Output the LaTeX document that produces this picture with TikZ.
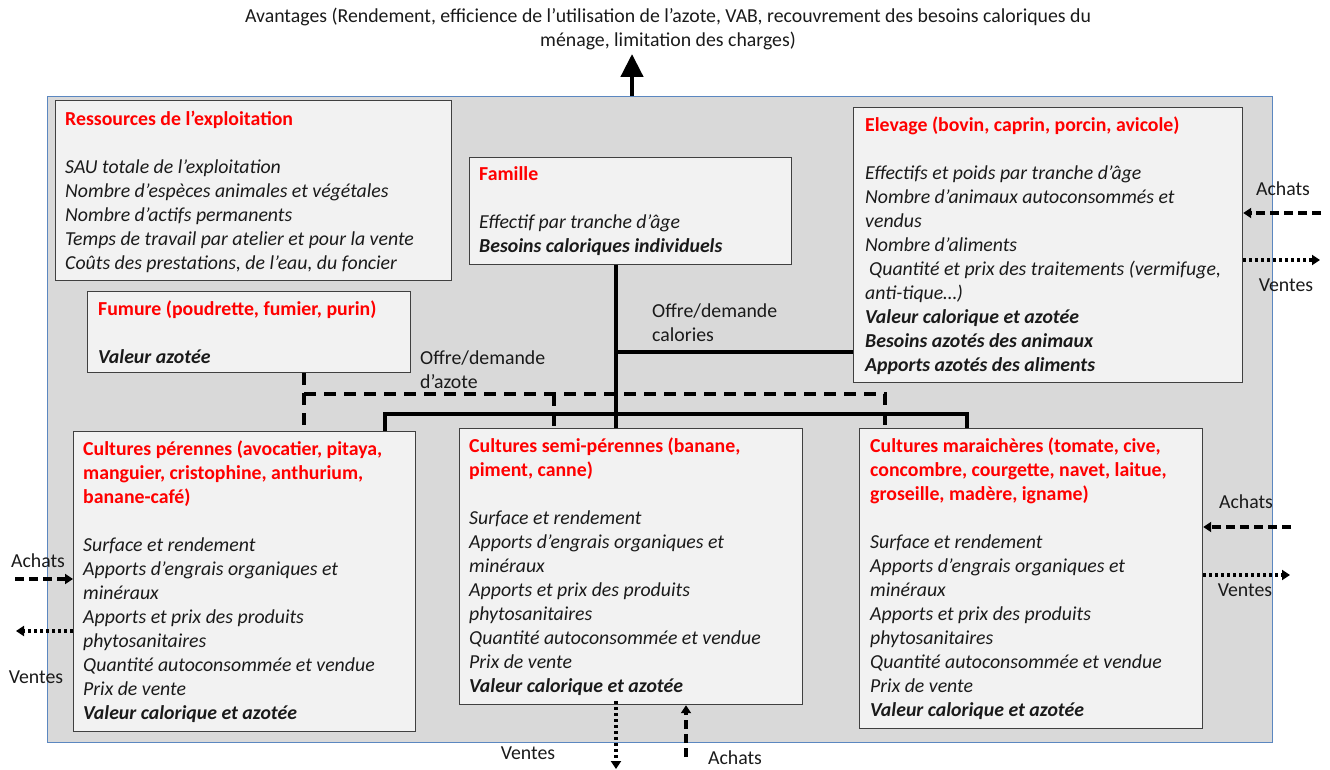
\documentclass[tikz,border=0pt]{standalone}
\usepackage{fontspec}
\setmainfont{Carlito}
\usetikzlibrary{arrows.meta}
\definecolor{boxfill}{HTML}{F2F2F2}
\definecolor{panel}{HTML}{D9D9D9}
\definecolor{panelline}{HTML}{5B87C0}
\definecolor{titlered}{HTML}{FF0000}
\definecolor{boxline}{HTML}{404040}
\definecolor{ink}{HTML}{1A1A1A}
\newcommand\boxtitle[1]{\textcolor{titlered}{\bfseries #1}}
\newcommand\itm[1]{\textit{#1}}
\newcommand\bitm[1]{\textbf{\textit{#1}}}
\begin{document}
\begin{tikzpicture}[x=1pt,y=-1pt,
  panelbox/.style={draw=panelline, fill=panel, line width=1.2pt, inner sep=0, anchor=north west},
  box/.style={draw=boxline, fill=boxfill, line width=1.2pt, inner sep=0, anchor=north west},
  txt/.style={font=\fontsize{19.8}{24}\selectfont, align=left, inner sep=0, anchor=north west, text=ink},
  lbl/.style={font=\fontsize{19.8}{24}\selectfont, inner sep=0, anchor=base, text=ink},
  link/.style={line width=3.2pt},
  azote/.style={line width=3.2pt, dash pattern=on 12pt off 8pt},
  achat/.style={line width=3.2pt, dash pattern=on 9pt off 5pt, -{Triangle[length=8pt,width=10pt]}},
  vente/.style={line width=3.2pt, dash pattern=on 3pt off 3pt, -{Triangle[length=8pt,width=10pt]}}
]
\useasboundingbox (0,0) rectangle (1330,770);

% top text and arrow
\node[font=\fontsize{19.8}{24}\selectfont, align=center, anchor=north, inner sep=0, text=ink] (avant) at (668,5.5)
  {\strut Avantages (Rendement, efficience de l’utilisation de l’azote, VAB, recouvrement des besoins caloriques du\\ ménage, limitation des charges)};

% main panel
\node[panelbox, minimum width=1225, minimum height=646] (panel) at (47,96) {};
\coordinate (upTip) at (632,54);
\draw[line width=4.5pt, -{Triangle[length=23pt,width=22pt]}] (panel.north -| upTip) -- (upTip);

% boxes
\node[box, minimum width=396, minimum height=180] (res) at (55,100) {};
\node[box, minimum width=322, minimum height=107] (fam) at (469,157) {};
\node[box, minimum width=389, minimum height=275] (elev) at (853,107) {};
\node[box, minimum width=323, minimum height=81] (fum) at (87,291) {};
\node[box, minimum width=342, minimum height=300] (per) at (73,431) {};
\node[box, minimum width=343, minimum height=276] (semi) at (459,428) {};
\node[box, minimum width=343, minimum height=300] (mar) at (859,428) {};

% connectors (solid: calories)
\coordinate (calJ) at (616,352);
\coordinate (solL) at (385,414);
\coordinate (solR) at (967,414);
\draw[link] (fam.south -| calJ) -- (semi.north -| calJ);
\draw[link] (calJ) -- (elev.west |- calJ);
\draw[link] (per.north -| solL) -- (solL) -- (solR) -- (mar.north -| solR);

% connectors (dashed: azote)
\coordinate (azL) at (304,394);
\coordinate (azM) at (554,394);
\coordinate (azR) at (885,394);
\draw[azote] (fum.south -| azL) -- (per.north -| azL);
\draw[azote] (azL) -- (azR) -- (mar.north -| azR);
\draw[azote] (azM) -- (semi.north -| azM);

% box texts
\node[txt] (restxt) at (65,108.7) {\strut\boxtitle{Ressources de l’exploitation}\\[24pt]
  \itm{SAU totale de l’exploitation}\\
  \itm{Nombre d’espèces animales et végétales}\\
  \itm{Nombre d’actifs permanents}\\
  \itm{Temps de travail par atelier et pour la vente}\\
  \itm{Coûts des prestations, de l’eau, du foncier}};

\node[txt] (famtxt) at (479,163.7) {\strut\boxtitle{Famille}\\[24pt]
  \itm{Effectif par tranche d'âge}\\
  \bitm{Besoins caloriques individuels}};

\node[txt] (elevtxt) at (865,114.7) {\strut\boxtitle{Elevage (bovin, caprin, porcin, avicole)}\\[24pt]
  \itm{Effectifs et poids par tranche d’âge}\\
  \itm{Nombre d’animaux autoconsommés et}\\
  \itm{vendus}\\
  \itm{Nombre d’aliments}\\
  \hspace*{4pt}\itm{Quantité et prix des traitements (vermifuge,}\\
  \itm{anti-tique…)}\\
  \bitm{Valeur calorique et azotée}\\
  \bitm{Besoins azotés des animaux}\\
  \bitm{Apports azotés des aliments}};

\node[txt] (fumtxt) at (98,298.7) {\strut\boxtitle{Fumure (poudrette, fumier, purin)}\\[24pt]
  \bitm{Valeur azotée}};

\node[txt] (pertxt) at (83,438.7) {\strut\boxtitle{Cultures pérennes (avocatier, pitaya,}\\
  \boxtitle{manguier, cristophine, anthurium,}\\
  \boxtitle{banane-café)}\\[24pt]
  \itm{Surface et rendement}\\
  \itm{Apports d’engrais organiques et}\\
  \itm{minéraux}\\
  \itm{Apports et prix des produits}\\
  \itm{phytosanitaires}\\
  \itm{Quantité autoconsommée et vendue}\\
  \itm{Prix de vente}\\
  \bitm{Valeur calorique et azotée}};

\node[txt] (semitxt) at (469,435.7) {\strut\boxtitle{Cultures semi-pérennes (banane,}\\
  \boxtitle{piment, canne)}\\[24pt]
  \itm{Surface et rendement}\\
  \itm{Apports d’engrais organiques et}\\
  \itm{minéraux}\\
  \itm{Apports et prix des produits}\\
  \itm{phytosanitaires}\\
  \itm{Quantité autoconsommée et vendue}\\
  \itm{Prix de vente}\\
  \bitm{Valeur calorique et azotée}};

\node[txt] (martxt) at (870,435.7) {\strut\boxtitle{Cultures maraichères (tomate, cive,}\\
  \boxtitle{concombre, courgette, navet, laitue,}\\
  \boxtitle{groseille, madère, igname)}\\[24pt]
  \itm{Surface et rendement}\\
  \itm{Apports d’engrais organiques et}\\
  \itm{minéraux}\\
  \itm{Apports et prix des produits}\\
  \itm{phytosanitaires}\\
  \itm{Quantité autoconsommée et vendue}\\
  \itm{Prix de vente}\\
  \bitm{Valeur calorique et azotée}};

% connector labels
\node[txt, text=ink] (calLbl) at (652,300.5) {\strut Offre/demande\\calories};
\node[txt, text=ink] (azLbl) at (420,347.5) {\strut Offre/demande\\d’azote};

% exchanges: elevage
\coordinate (eA) at (1321,213);
\coordinate (eV) at (1320,260);
\draw[achat] (eA) -- (eA -| elev.east);
\draw[vente] (elev.east |- eV) -- (eV);
\node[lbl] (eAl) at (1283,196) {Achats};
\node[lbl] (eVl) at (1286,291) {Ventes};

% exchanges: perennes
\coordinate (pA) at (15,579);
\coordinate (pV) at (16,631);
\draw[achat] (pA) -- (pA -| per.west);
\draw[vente] (per.west |- pV) -- (pV);
\node[lbl] (pAl) at (38,567) {Achats};
\node[lbl] (pVl) at (36,683) {Ventes};

% exchanges: semi-perennes
\coordinate (sV) at (616,769);
\coordinate (sA) at (686,757);
\draw[vente] ([yshift=4pt]semi.south -| sV) -- (sV);
\draw[achat] (sA) -- (sA |- semi.south);
\node[lbl] (sVl) at (528,759) {Ventes};
\node[lbl] (sAl) at (735,764) {Achats};

% exchanges: maraicheres
\coordinate (mA) at (1291,527);
\coordinate (mV) at (1290,575);
\draw[achat] (mA) -- (mA -| mar.east);
\draw[vente] (mar.east |- mV) -- (mV);
\node[lbl] (mAl) at (1246,508) {Achats};
\node[lbl] (mVl) at (1245,596) {Ventes};
\end{tikzpicture}
\end{document}
